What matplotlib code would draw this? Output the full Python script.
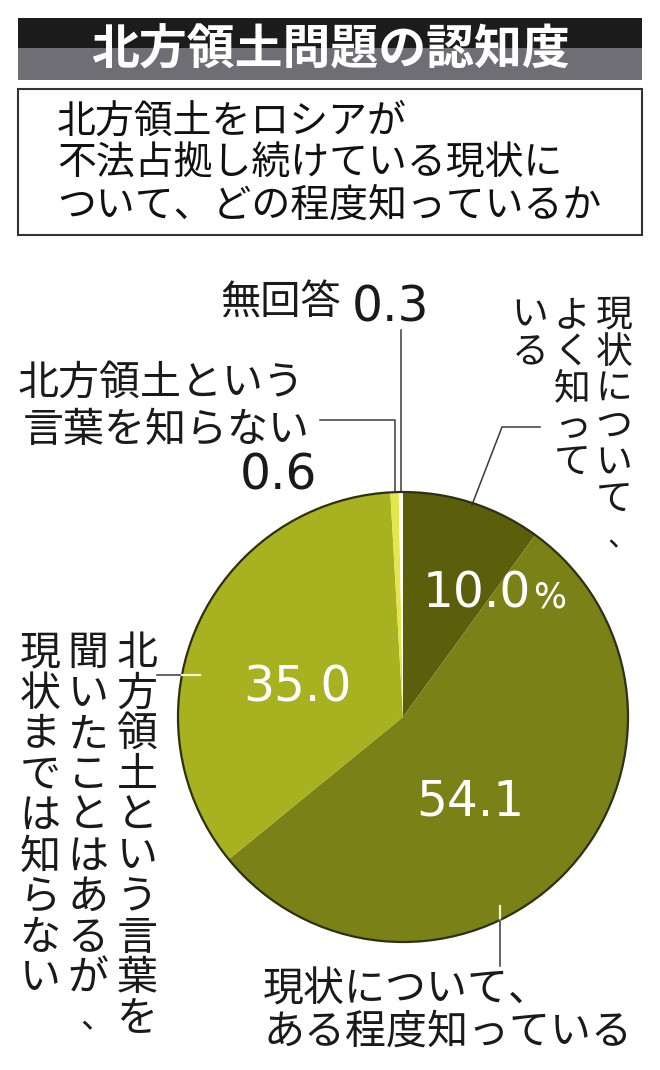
import math
import matplotlib
matplotlib.use("Agg")
import matplotlib.pyplot as plt
from matplotlib.patches import Rectangle, Circle

# ---------------- data ----------------
title = "北方領土問題の認知度"
question_lines = ["北方領土をロシアが", "不法占拠し続けている現状に", "ついて、どの程度知っているか"]
categories = ["現状について、よく知っている",
              "現状について、ある程度知っている",
              "北方領土という言葉を聞いたことはあるが、現状までは知らない",
              "北方領土という言葉を知らない",
              "無回答"]
values = [10.0, 54.1, 35.0, 0.6, 0.3]
value_labels = ["10.0", "54.1", "35.0", "0.6", "0.3"]
colors = ["#5b5f0c", "#7a8117", "#a8b120", "#e4e64c", "#fffff2"]

# ---------------- layout ----------------
W, H = 660, 1070
CX, CY, R = 403, 717, 225
JP = ["Noto Sans CJK JP", "DejaVu Sans"]
NUM = ["DejaVu Sans"]
LINE_C = "#3a3a3a"

fig = plt.figure(figsize=(W / 100, H / 100), dpi=100)
ax = fig.add_axes([0, 0, 1, 1])

# pie (pixel coordinates, y axis pointing down => clockwise from top)
wedges, _ = ax.pie(values, colors=colors, center=(CX, CY), radius=R,
                   startangle=-90, counterclock=True,
                   wedgeprops=dict(linewidth=0, edgecolor="none"))
ax.add_patch(Circle((CX, CY), R, fill=False, edgecolor="#2e3010", linewidth=1.6, zorder=3))
ax.set_xlim(0, W)
ax.set_ylim(H, 0)
ax.set_aspect("auto")
ax.axis("off")

# angle helpers (clockwise degrees from 12 o'clock)
cum = [0.0]
for v in values:
    cum.append(cum[-1] + v)
tot = cum[-1]
mid_angle = [(cum[i] + cum[i + 1]) / 2 / tot * 360 for i in range(len(values))]


def pt(a, r):
    return CX + r * math.sin(math.radians(a)), CY - r * math.cos(math.radians(a))


def edge_y_at_x(x, lower=False):
    d = math.sqrt(R ** 2 - (x - CX) ** 2)
    return CY + d if lower else CY - d


def edge_x_at_y(y):
    return CX - math.sqrt(R ** 2 - (y - CY) ** 2)


# ---------------- title bar & question box ----------------
ax.add_patch(Rectangle((18, 18), 624, 31, facecolor="#1c1c1c", edgecolor="none"))
ax.add_patch(Rectangle((18, 48), 624, 32, facecolor="#6e6e74", edgecolor="none"))
ax.text(330, 50, title, color="white", fontsize=34.5, fontweight="bold",
        family=JP, ha="center", va="center")
ax.add_patch(Rectangle((18, 89), 624, 146, facecolor="white", edgecolor="#333333", linewidth=1.5))
for i, line in enumerate(question_lines):
    ax.text(57, 122 + 42 * i, line, fontsize=28, family=JP, ha="left", va="center", color="#111111")

# ---------------- leader lines ----------------
lw = 1.1
# 無回答 0.3
x03, _ = pt(mid_angle[4], R)
ax.plot([x03, x03], [edge_y_at_x(x03), 330], color=LINE_C, lw=lw)
# 0.6
x06, _ = pt(mid_angle[3], R)
ax.plot([x06, x06, 320], [edge_y_at_x(x06), 420, 420], color=LINE_C, lw=lw)
# 10.0
sx, sy = pt(mid_angle[0], R - 3)
ax.plot([sx, 502, 540], [sy, 427, 427], color=LINE_C, lw=lw)
# 54.1
xl = 500
ye = edge_y_at_x(xl, lower=True)
ax.plot([xl, xl], [ye - 14, ye], color="#f4f4d0", lw=1.6, zorder=4)
ax.plot([xl, xl], [ye, 966], color=LINE_C, lw=lw, zorder=4)
# 35.0
yl = 675
xe = edge_x_at_y(yl)
ax.plot([157, xe], [yl, yl], color=LINE_C, lw=lw, zorder=4)
ax.plot([xe, 200], [yl, yl], color="#f4f4d0", lw=1.6, zorder=4)

# ---------------- value labels ----------------
ax.text(423, 608, value_labels[0], fontsize=35, family=NUM, color="white", ha="left", va="baseline")
ax.text(533, 608, "%", fontsize=25, family=NUM, color="white", ha="left", va="baseline")
ax.text(416, 816, value_labels[1], fontsize=35, family=NUM, color="white", ha="left", va="baseline")
ax.text(243, 701, value_labels[2], fontsize=35, family=NUM, color="white", ha="left", va="baseline")
ax.text(317, 490, value_labels[3], fontsize=35, family=NUM, color="#1a1a1a", ha="right", va="baseline")
ax.text(352, 322, value_labels[4], fontsize=35, family=NUM, color="#1a1a1a", ha="left", va="baseline")

# ---------------- category labels ----------------
ax.text(220, 303, categories[4], fontsize=29, family=JP, ha="left", va="center", color="#1a1a1a")
ax.text(18, 383, "北方領土という", fontsize=29.5, family=JP, ha="left", va="center", color="#1a1a1a")
ax.text(23, 430, "言葉を知らない", fontsize=29.5, family=JP, ha="left", va="center", color="#1a1a1a")
ax.text(263, 990, "現状について、", fontsize=29.5, family=JP, ha="left", va="center", color="#1a1a1a")
ax.text(263, 1032, "ある程度知っている", fontsize=29.5, family=JP, ha="left", va="center", color="#1a1a1a")


def vertical(columns, xs, top, pitch, size):
    for col, x in zip(columns, xs):
        for i, ch in enumerate(col):
            y = top + pitch * (i + 0.5)
            if ch == "、":
                # vertical-writing comma sits toward the right of its cell
                ax.text(x + pitch * 0.22, y, ch, fontsize=size * 0.8, family=JP,
                        ha="center", va="center", color="#1a1a1a")
            else:
                ax.text(x, y, ch, fontsize=size, family=JP, ha="center", va="center",
                        color="#1a1a1a")


vertical(["現状について、", "よく知って", "いる"], [614, 572, 530], 297, 37, 26.5)
vertical(["北方領土という言葉を", "聞いたことはあるが、", "現状までは知らない"], [137, 88, 40], 633, 40.7, 29.5)

fig.savefig("out.png", dpi=100, facecolor="white")
